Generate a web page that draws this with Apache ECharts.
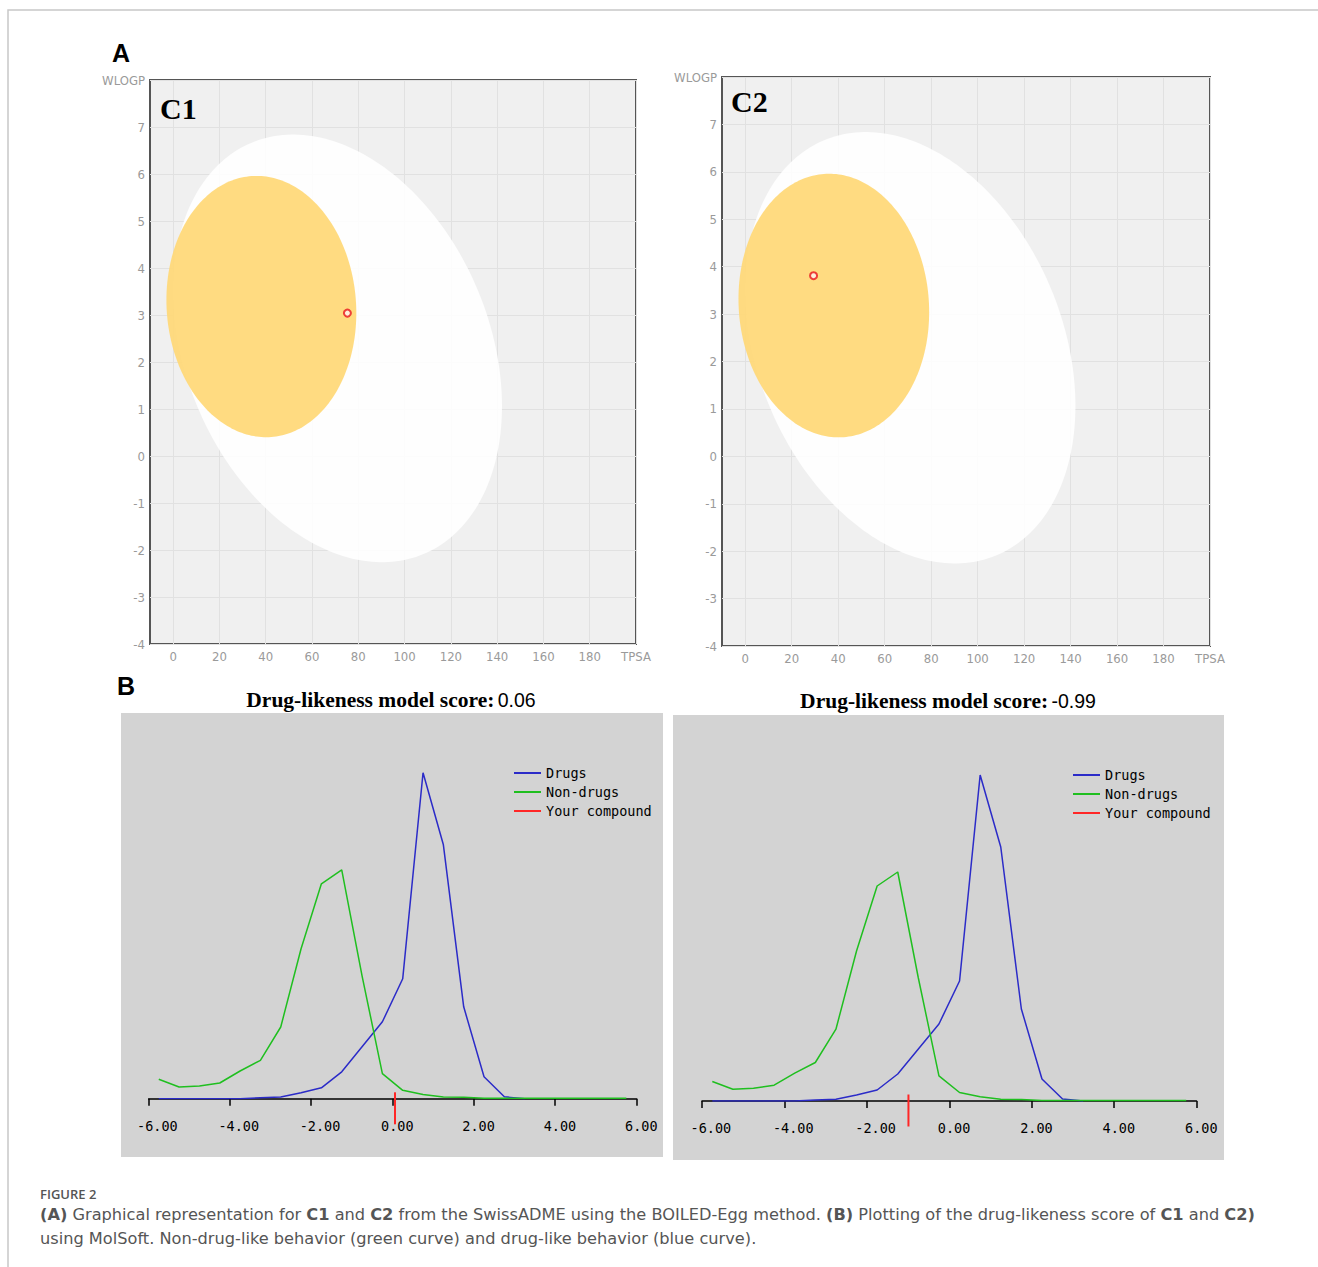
<!DOCTYPE html>
<html><head><meta charset="utf-8">
<script src="https://cdn.jsdelivr.net/npm/echarts@6/dist/echarts.min.js"></script>
<style>html,body{margin:0;padding:0;background:#fff}#c{width:1318px;height:1267px}</style>
</head><body><div id="c"></div>
<script>
// ---------------- DATA ----------------
// Panel A (BOILED-Egg): TPSA x-axis ticks, ellipse parameters [centerTPSA, centerWLOGP, halfTPSA, halfWLOGP, tilt]
const tpsaTicks = [0, 20, 40, 60, 80, 100, 120, 140, 160, 180, 200];
const hiaWhite = [71.05, 2.29, 71.05, 4.55, -0.27];
const bbbYolk = [38.12, 3.18, 41.03, 2.78, -0.05];
const compoundC1 = [75.3, 3.04];
const compoundC2 = [29.4, 3.81];
// Panel B (MolSoft drug-likeness): score bins and percentage distributions
const scoreBins = [-5.75, -5.25, -4.75, -4.25, -3.75, -3.25, -2.75, -2.25, -1.75, -1.25, -0.75, -0.25,
                   0.25, 0.75, 1.25, 1.75, 2.25, 2.75, 3.25, 3.75, 4.25, 4.75, 5.25, 5.75];
const drugsPct = [0, 0, 0, 0, 0, 0.1, 0.18, 0.6, 1.1, 2.7, 5.2, 7.7, 12.0, 32.6, 25.4, 9.2, 2.2, 0.2, 0];
const nonDrugsPct = [1.95, 1.18, 1.28, 1.58, 2.78, 3.85, 7.18, 15.0, 21.5, 22.9, 12.3, 2.52,
                     0.85, 0.42, 0.18, 0.15, 0.05, 0.05, 0.05, 0.05, 0.05, 0.05, 0.05, 0.05];
const scoreC1 = 0.06;
const scoreC2 = -0.99;

// ---------------- STYLE ----------------
const narrow = '"Liberation Sans Narrow","DejaVu Sans Condensed","Liberation Sans",sans-serif';
const mono = '"DejaVu Sans Mono","Liberation Mono",monospace';
const serif = '"Liberation Serif","DejaVu Serif",serif';
const capFont = '"DejaVu Sans","Open Sans",sans-serif';
const BLUE = '#2b2bc8', GREEN = '#1fbf1f', RED = '#ff2626';

function pairs(xs, ys) { return ys.map((y, i) => [xs[i], y]); }

function ellipseItem(fill, opacity) {
  return function (params, api) {
    const cx = api.value(0), cy = api.value(1), rx = api.value(2), ry = api.value(3), tilt = api.value(4);
    const phi = Math.acos(tilt);
    const pts = [];
    for (let i = 0; i < 240; i++) {
      const t = i / 240 * 2 * Math.PI;
      pts.push(api.coord([cx + rx * Math.cos(t), cy + ry * Math.cos(t - phi)]));
    }
    return { type: 'polygon', shape: { points: pts }, style: { fill: fill, opacity: opacity } };
  };
}
function compoundTick(params, api) {
  const p = api.coord([api.value(0), 0]);
  return { type: 'line', shape: { x1: p[0], y1: p[1] - 6.5, x2: p[0], y2: p[1] + 25.5 },
           style: { stroke: RED, lineWidth: 2 } };
}

function eggAxes(g) {
  return {
    x: {
      gridIndex: g, type: 'value', min: -10, max: 200,
      axisLine: { show: false }, axisTick: { show: false, customValues: tpsaTicks },
      axisLabel: { customValues: tpsaTicks, color: '#9a9a9a', fontFamily: narrow, fontSize: 13, margin: 6,
                   formatter: v => v === 200 ? 'TPSA' : String(v) },
      splitLine: { show: true, lineStyle: { color: '#e1e1e1', width: 1 } }
    },
    y: {
      gridIndex: g, type: 'value', min: -4, max: 8, interval: 1,
      axisLine: { show: false }, axisTick: { show: false },
      axisLabel: { color: '#9a9a9a', fontFamily: narrow, fontSize: 13, margin: 5,
                   formatter: v => v === 8 ? 'WLOGP' : String(v) },
      splitLine: { show: true, lineStyle: { color: '#e1e1e1', width: 1 } }
    }
  };
}
function scoreAxes(g, off) {
  return {
    x: {
      gridIndex: g, type: 'value', min: -6, max: 6, interval: 2, offset: off,
      axisLine: { show: true, lineStyle: { color: '#000', width: 1.5 } },
      axisTick: { show: true, inside: false, length: 7, lineStyle: { color: '#000', width: 1.5 } },
      axisLabel: { margin: 9, formatter: v => '{t|' + v.toFixed(2) + '}',
                   rich: { t: { width: 23, align: 'left', fontFamily: mono, fontSize: 13.5, color: '#000' } } },
      splitLine: { show: false }
    },
    y: { gridIndex: g, type: 'value', min: 0, max: 40, show: false, splitLine: { show: false } }
  };
}
const e0 = eggAxes(0), e1 = eggAxes(1), s2 = scoreAxes(2, 10.7), s3 = scoreAxes(3, 11);

const legendCommon = {
  orient: 'vertical', icon: 'rect', itemWidth: 27, itemHeight: 2, itemGap: 3, padding: 0, selectedMode: false,
  textStyle: { fontFamily: mono, fontSize: 13.5, color: '#000', lineHeight: 16 },
  data: ['Drugs', 'Non-drugs', 'Your compound']
};

function capTok(s, bold) { return '{' + (bold ? 'b' : 'n') + '|' + s + '}'; }
const capRich = {
  n: { fontFamily: capFont, fontSize: 16.2, fontWeight: 'normal', fill: '#555' },
  b: { fontFamily: capFont, fontSize: 16.2, fontWeight: 'bold', fill: '#555' }
};
const titleRich = {
  b: { fontFamily: serif, fontSize: 21.5, fontWeight: 'bold', fill: '#000' },
  v: { fontFamily: '"Liberation Sans",sans-serif', fontSize: 19.5, fontWeight: 'normal', fill: '#000' }
};

const option = {
  animation: false,
  backgroundColor: '#fff',
  grid: [
    { left: 150, top: 80, width: 486, height: 564, show: true, backgroundColor: '#f0f0f0', borderColor: '#555', borderWidth: 2 },
    { left: 722, top: 77, width: 488, height: 569, show: true, backgroundColor: '#f0f0f0', borderColor: '#555', borderWidth: 2 },
    { left: 148.6, top: 698.8, width: 487.9, height: 400 },
    { left: 702, top: 701, width: 494.5, height: 400 }
  ],
  xAxis: [e0.x, e1.x, s2.x, s3.x],
  yAxis: [e0.y, e1.y, s2.y, s3.y],
  legend: [
    Object.assign({ left: 514, top: 765 }, legendCommon),
    Object.assign({ left: 1073, top: 767 }, legendCommon)
  ],
  series: [
    { type: 'custom', name: 'HIA', xAxisIndex: 0, yAxisIndex: 0, renderItem: ellipseItem('#ffffff', 0.88), data: [hiaWhite], silent: true },
    { type: 'custom', name: 'BBB', xAxisIndex: 0, yAxisIndex: 0, renderItem: ellipseItem('#ffd877', 0.93), data: [bbbYolk], silent: true },
    { type: 'scatter', name: 'C1', xAxisIndex: 0, yAxisIndex: 0, data: [compoundC1], symbol: 'circle', symbolSize: 7,
      itemStyle: { color: '#fff5f0', borderColor: '#e8141c', borderWidth: 2 } },
    { type: 'custom', name: 'HIA2', xAxisIndex: 1, yAxisIndex: 1, renderItem: ellipseItem('#ffffff', 0.88), data: [hiaWhite], silent: true },
    { type: 'custom', name: 'BBB2', xAxisIndex: 1, yAxisIndex: 1, renderItem: ellipseItem('#ffd877', 0.93), data: [bbbYolk], silent: true },
    { type: 'scatter', name: 'C2', xAxisIndex: 1, yAxisIndex: 1, data: [compoundC2], symbol: 'circle', symbolSize: 7,
      itemStyle: { color: '#fff5f0', borderColor: '#e8141c', borderWidth: 2 } },

    { type: 'line', name: 'Drugs', xAxisIndex: 2, yAxisIndex: 2, data: pairs(scoreBins, drugsPct), showSymbol: false,
      lineStyle: { color: BLUE, width: 1.5 }, itemStyle: { color: BLUE } },
    { type: 'line', name: 'Non-drugs', xAxisIndex: 2, yAxisIndex: 2, data: pairs(scoreBins, nonDrugsPct), showSymbol: false,
      lineStyle: { color: GREEN, width: 1.5 }, itemStyle: { color: GREEN } },
    { type: 'custom', name: 'Your compound', xAxisIndex: 2, yAxisIndex: 2, renderItem: compoundTick, data: [[scoreC1, 0]],
      itemStyle: { color: RED }, clip: false },

    { type: 'line', name: 'Drugs', xAxisIndex: 3, yAxisIndex: 3, data: pairs(scoreBins, drugsPct), showSymbol: false,
      lineStyle: { color: BLUE, width: 1.5 }, itemStyle: { color: BLUE } },
    { type: 'line', name: 'Non-drugs', xAxisIndex: 3, yAxisIndex: 3, data: pairs(scoreBins, nonDrugsPct), showSymbol: false,
      lineStyle: { color: GREEN, width: 1.5 }, itemStyle: { color: GREEN } },
    { type: 'custom', name: 'Your compound', xAxisIndex: 3, yAxisIndex: 3, renderItem: compoundTick, data: [[scoreC2, 0]],
      itemStyle: { color: RED }, clip: false }
  ],
  graphic: [
    { type: 'rect', z: -10, silent: true, shape: { x: 8, y: 10, width: 1330, height: 1280 }, style: { fill: 'none', stroke: '#c8c8c8', lineWidth: 1.5 } },
    { type: 'rect', z: -5, silent: true, shape: { x: 121, y: 713, width: 542, height: 444 }, style: { fill: '#d3d3d3' } },
    { type: 'rect', z: -5, silent: true, shape: { x: 673, y: 715, width: 551, height: 445 }, style: { fill: '#d3d3d3' } },
    { type: 'text', x: 121, y: 53, style: { text: 'A', fontFamily: '"Liberation Sans",sans-serif', fontSize: 25, fontWeight: 'bold', fill: '#000', align: 'center', verticalAlign: 'middle', textAlign: 'center', textVerticalAlign: 'middle' } },
    { type: 'text', x: 126, y: 686, style: { text: 'B', fontFamily: '"Liberation Sans",sans-serif', fontSize: 25, fontWeight: 'bold', fill: '#000', align: 'center', verticalAlign: 'middle', textAlign: 'center', textVerticalAlign: 'middle' } },
    { type: 'text', x: 160, y: 108, z: 50, style: { text: 'C1', fontFamily: serif, fontSize: 30, fontWeight: 'bold', fill: '#000', verticalAlign: 'middle', textVerticalAlign: 'middle' } },
    { type: 'text', x: 731, y: 101, z: 50, style: { text: 'C2', fontFamily: serif, fontSize: 30, fontWeight: 'bold', fill: '#000', verticalAlign: 'middle', textVerticalAlign: 'middle' } },
    { type: 'text', x: 391, y: 700, style: { text: '{b|Drug-likeness model score:} {v|' + scoreC1.toFixed(2) + '}', rich: titleRich, align: 'center', verticalAlign: 'middle', textAlign: 'center', textVerticalAlign: 'middle' } },
    { type: 'text', x: 948, y: 701, style: { text: '{b|Drug-likeness model score:} {v|' + scoreC2.toFixed(2) + '}', rich: titleRich, align: 'center', verticalAlign: 'middle', textAlign: 'center', textVerticalAlign: 'middle' } },
    { type: 'text', x: 40, y: 1194, style: { text: 'FIGURE 2', fontFamily: '"Open Sans",sans-serif', fontSize: 13, fontWeight: 600, fill: '#555', verticalAlign: 'middle', textVerticalAlign: 'middle' } },
    { type: 'text', x: 40, y: 1214, style: { rich: capRich, verticalAlign: 'middle', textVerticalAlign: 'middle',
      text: capTok('(A)', true) + capTok(' Graphical representation for ') + capTok('C1', true) + capTok(' and ') + capTok('C2', true) +
            capTok(' from the SwissADME using the BOILED-Egg method. ') + capTok('(B)', true) +
            capTok(' Plotting of the drug-likeness score of ') + capTok('C1', true) + capTok(' and ') + capTok('C2)', true) } },
    { type: 'text', x: 40, y: 1238, style: { rich: capRich, verticalAlign: 'middle', textVerticalAlign: 'middle',
      text: capTok('using MolSoft. Non-drug-like behavior (green curve) and drug-like behavior (blue curve).') } }
  ]
};
const chart = echarts.init(document.getElementById('c'), null, { renderer: 'svg' });
chart.setOption(option);
</script></body></html>
